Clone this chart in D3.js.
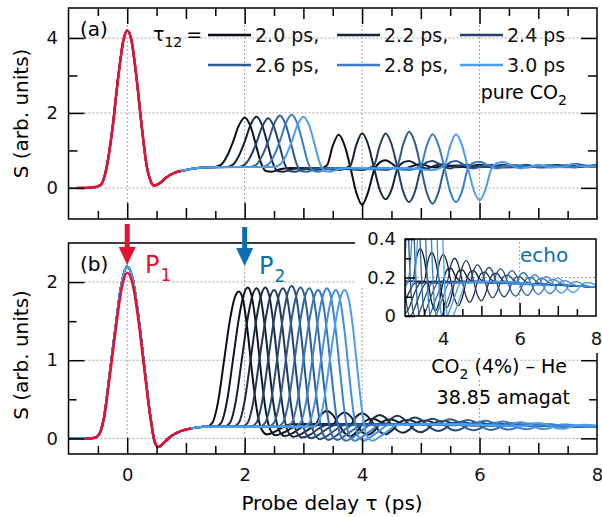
<!DOCTYPE html>
<html>
<head>
<meta charset="utf-8">
<script src="https://cdn.jsdelivr.net/npm/d3@7"></script>
<style>
  body { margin: 0; background: #fff; }
  text { font-family: "DejaVu Sans", sans-serif; }
</style>
</head>
<body>
<svg id="chart" width="602" height="517"></svg>
<script>
// ---- panel (a): pure CO2, tau12 = 2.0 ... 3.0 ps ----
const tauA = ["2.0 ps,", "2.2 ps,", "2.4 ps", "2.6 ps,", "2.8 ps,", "3.0 ps"];
const colorsA = ["#0a0e17", "#15233a", "#22416a", "#2d5c94", "#3a7cc8", "#4b9ded"];

// response to the first pulse, shared by all curves (t in ps, S)
const p1A = [[-1,0],[-0.7,0],[-0.55,0.02],[-0.45,0.08],[-0.35,0.55],[-0.25,1.6],[-0.15,3.0],[-0.07,3.9],[0,4.2],[0.07,3.95],[0.15,3.05],[0.25,1.6],[0.33,0.6],[0.4,0.18],[0.46,0.06],[0.55,0.12],[0.65,0.26],[0.8,0.4],[1.0,0.48],[1.2,0.53],[1.4,0.55]];
const redA = [[-0.85,0],[-0.7,0],[-0.55,0.02],[-0.45,0.08],[-0.35,0.55],[-0.25,1.6],[-0.15,3.0],[-0.07,3.9],[0,4.2],[0.07,3.95],[0.15,3.05],[0.25,1.6],[0.33,0.6],[0.4,0.18],[0.46,0.06],[0.55,0.12],[0.65,0.26],[0.8,0.4],[0.9,0.45]];

const a20 = [[1.5,0.56],[1.6,0.62],[1.7,0.85],[1.8,1.22],[1.9,1.66],[2.0,1.88],[2.1,1.64],[2.2,1.1],[2.28,0.66],[2.36,0.45],[2.46,0.43],[2.6,0.5],[2.8,0.53],[3.0,0.52],[3.2,0.48],[3.4,0.6],[3.5,1.12],[3.6,1.42],[3.7,1.14],[3.8,0.55],[3.9,-0.12],[4.0,-0.45],[4.1,-0.12],[4.2,0.45],[4.3,0.68],[4.4,0.74],[4.55,0.6],[4.7,0.5],[4.85,0.58],[5.0,0.64],[5.2,0.55],[5.4,0.57],[5.6,0.6],[5.8,0.54],[6.0,0.56],[6.2,0.6],[6.4,0.55],[6.6,0.56],[6.8,0.6],[7.0,0.55],[7.2,0.56],[7.5,0.6],[7.8,0.56],[8.0,0.58]];
const a22 = [[1.7,0.56],[1.8,0.62],[1.9,0.85],[2.0,1.23],[2.1,1.68],[2.2,1.9],[2.3,1.66],[2.4,1.11],[2.48,0.66],[2.56,0.45],[2.66,0.43],[2.8,0.5],[3.0,0.53],[3.3,0.52],[3.6,0.48],[3.8,0.6],[3.9,1.14],[4.0,1.46],[4.1,1.17],[4.2,0.55],[4.3,-0.05],[4.4,-0.3],[4.5,-0.05],[4.6,0.5],[4.7,0.68],[4.8,0.72],[4.95,0.6],[5.1,0.52],[5.25,0.6],[5.4,0.63],[5.6,0.55],[5.8,0.57],[6.0,0.62],[6.2,0.55],[6.4,0.56],[6.6,0.61],[6.8,0.55],[7.0,0.57],[7.3,0.61],[7.6,0.55],[7.8,0.58],[8.0,0.6]];
const a24 = [[1.9,0.56],[2.0,0.62],[2.1,0.84],[2.2,1.2],[2.3,1.64],[2.4,1.86],[2.5,1.62],[2.6,1.09],[2.68,0.65],[2.76,0.45],[2.86,0.43],[3.0,0.5],[3.2,0.53],[3.6,0.52],[4.0,0.48],[4.2,0.6],[4.3,1.13],[4.4,1.45],[4.5,1.17],[4.6,0.55],[4.7,-0.1],[4.8,-0.38],[4.9,-0.1],[5.0,0.5],[5.1,0.68],[5.2,0.72],[5.35,0.6],[5.5,0.52],[5.65,0.6],[5.8,0.62],[6.0,0.55],[6.2,0.57],[6.4,0.62],[6.6,0.55],[6.8,0.56],[7.0,0.6],[7.2,0.55],[7.4,0.57],[7.65,0.64],[7.9,0.56],[8.0,0.57]];
const a26 = [[2.1,0.56],[2.2,0.62],[2.3,0.86],[2.4,1.24],[2.5,1.7],[2.6,1.93],[2.7,1.68],[2.8,1.12],[2.88,0.66],[2.96,0.45],[3.06,0.43],[3.2,0.5],[3.4,0.53],[3.8,0.52],[4.4,0.48],[4.6,0.6],[4.7,1.16],[4.8,1.5],[4.9,1.2],[5.0,0.55],[5.1,-0.12],[5.2,-0.42],[5.3,-0.12],[5.4,0.5],[5.5,0.68],[5.6,0.72],[5.75,0.6],[5.9,0.52],[6.05,0.58],[6.2,0.62],[6.4,0.55],[6.6,0.57],[6.8,0.62],[7.0,0.55],[7.2,0.56],[7.4,0.6],[7.6,0.55],[7.8,0.58],[8.0,0.62]];
const a28 = [[2.3,0.56],[2.4,0.62],[2.5,0.86],[2.6,1.25],[2.7,1.72],[2.8,1.95],[2.9,1.7],[3.0,1.13],[3.08,0.67],[3.16,0.46],[3.26,0.43],[3.4,0.5],[3.6,0.53],[4.0,0.52],[4.4,0.53],[4.8,0.48],[5.0,0.6],[5.1,1.12],[5.2,1.43],[5.3,1.14],[5.4,0.55],[5.5,-0.1],[5.6,-0.38],[5.7,-0.1],[5.8,0.5],[5.9,0.67],[6.0,0.7],[6.15,0.6],[6.3,0.52],[6.45,0.58],[6.6,0.61],[6.8,0.55],[7.0,0.57],[7.2,0.61],[7.4,0.55],[7.6,0.56],[7.8,0.6],[8.0,0.57]];
const a30 = [[2.5,0.56],[2.6,0.62],[2.7,0.85],[2.8,1.23],[2.9,1.68],[3.0,1.9],[3.1,1.66],[3.2,1.11],[3.28,0.66],[3.36,0.45],[3.46,0.43],[3.6,0.5],[3.8,0.53],[4.2,0.52],[4.7,0.53],[5.2,0.48],[5.4,0.6],[5.5,1.12],[5.6,1.43],[5.7,1.14],[5.8,0.55],[5.9,-0.05],[6.0,-0.33],[6.1,-0.05],[6.2,0.5],[6.3,0.66],[6.4,0.69],[6.55,0.6],[6.7,0.52],[6.85,0.56],[7.0,0.62],[7.2,0.55],[7.4,0.56],[7.6,0.63],[7.8,0.56],[8.0,0.58]];
const curvesA = [a20, a22, a24, a26, a28, a30];

// ---- panel (b): CO2 (4%) - He, 38.85 amagat ----
const p1B = [[-1,0],[-0.6,0],[-0.5,0.03],[-0.4,0.25],[-0.3,0.82],[-0.2,1.42],[-0.1,1.97],[0,2.2],[0.1,2.02],[0.2,1.5],[0.3,0.86],[0.4,0.25],[0.47,-0.05],[0.53,-0.11],[0.62,-0.06],[0.75,0.03],[0.9,0.09],[1.1,0.13],[1.3,0.15]];
const redB = [[-0.7,0],[-0.6,0],[-0.5,0.03],[-0.4,0.24],[-0.3,0.78],[-0.2,1.37],[-0.1,1.9],[0,2.12],[0.1,1.95],[0.2,1.46],[0.3,0.83],[0.4,0.24],[0.47,-0.05],[0.53,-0.11],[0.62,-0.06],[0.75,0.03],[0.9,0.09],[1.07,0.125]];

const b190 = [[1.35,0.15],[1.45,0.2],[1.55,0.48],[1.65,1.0],[1.75,1.52],[1.83,1.8],[1.9,1.88],[1.97,1.78],[2.05,1.37],[2.12,0.88],[2.2,0.4],[2.28,0.13],[2.38,0.05],[2.5,0.08],[2.65,0.14],[2.8,0.18],[3.0,0.18],[3.2,0.18],[3.3,0.3],[3.4,0.35],[3.5,0.3],[3.6,0.18],[3.7,0.07],[3.8,0.027],[3.9,0.078],[4.0,0.18],[4.1,0.24],[4.2,0.248],[4.35,0.197],[4.5,0.18],[5.0,0.18],[5.5,0.175],[6.5,0.165],[7.3,0.158],[8,0.15]];
const b205 = [[1.5,0.15],[1.6,0.2],[1.7,0.48],[1.8,1.0],[1.9,1.53],[1.98,1.83],[2.05,1.93],[2.12,1.82],[2.2,1.4],[2.27,0.9],[2.35,0.4],[2.43,0.12],[2.53,0.04],[2.65,0.07],[2.8,0.13],[2.95,0.18],[3.2,0.18],[3.5,0.18],[3.6,0.285],[3.7,0.33],[3.8,0.285],[3.9,0.18],[4.0,0.083],[4.1,0.045],[4.2,0.09],[4.3,0.18],[4.4,0.233],[4.5,0.24],[4.65,0.195],[4.8,0.18],[5.5,0.175],[6.5,0.165],[7.3,0.158],[8,0.15]];
const b220 = [[1.65,0.15],[1.75,0.2],[1.85,0.48],[1.95,1.0],[2.05,1.53],[2.13,1.82],[2.2,1.92],[2.27,1.81],[2.35,1.39],[2.42,0.89],[2.5,0.39],[2.58,0.11],[2.68,0.03],[2.8,0.06],[2.95,0.13],[3.1,0.18],[3.5,0.18],[3.8,0.18],[3.9,0.278],[4.0,0.32],[4.1,0.278],[4.2,0.18],[4.3,0.089],[4.4,0.054],[4.5,0.096],[4.6,0.18],[4.7,0.229],[4.8,0.236],[4.95,0.194],[5.1,0.178],[5.5,0.175],[6.5,0.165],[7.3,0.158],[8,0.15]];
const b235 = [[1.8,0.15],[1.9,0.2],[2.0,0.48],[2.1,1.0],[2.2,1.53],[2.28,1.83],[2.35,1.93],[2.42,1.82],[2.5,1.4],[2.57,0.9],[2.65,0.38],[2.73,0.1],[2.83,0.02],[2.95,0.05],[3.1,0.12],[3.25,0.17],[3.8,0.18],[4.1,0.18],[4.2,0.264],[4.3,0.3],[4.4,0.264],[4.5,0.18],[4.6,0.1],[4.7,0.072],[4.8,0.108],[4.9,0.18],[5.0,0.222],[5.1,0.228],[5.25,0.19],[5.4,0.177],[6.5,0.165],[7.3,0.158],[8,0.15]];
const b250 = [[1.95,0.15],[2.05,0.2],[2.15,0.48],[2.25,1.0],[2.35,1.5],[2.43,1.8],[2.5,1.9],[2.57,1.79],[2.65,1.38],[2.72,0.88],[2.8,0.37],[2.88,0.09],[2.98,0.01],[3.1,0.04],[3.25,0.12],[3.4,0.17],[4.0,0.18],[4.4,0.178],[4.5,0.255],[4.6,0.288],[4.7,0.255],[4.8,0.178],[4.9,0.106],[5.0,0.079],[5.1,0.112],[5.2,0.178],[5.3,0.216],[5.4,0.222],[5.55,0.186],[5.7,0.173],[6.5,0.165],[7.3,0.158],[8,0.15]];
const b265 = [[2.1,0.15],[2.2,0.2],[2.3,0.48],[2.4,1.0],[2.5,1.52],[2.58,1.82],[2.65,1.92],[2.72,1.81],[2.8,1.39],[2.87,0.89],[2.95,0.37],[3.03,0.08],[3.13,0.0],[3.25,0.04],[3.4,0.12],[3.55,0.17],[4.2,0.18],[4.7,0.176],[4.8,0.239],[4.9,0.266],[5.0,0.239],[5.1,0.176],[5.2,0.117],[5.3,0.095],[5.4,0.122],[5.5,0.176],[5.6,0.207],[5.7,0.212],[5.85,0.185],[6.0,0.172],[6.5,0.165],[7.3,0.158],[8,0.15]];
const b280 = [[2.25,0.15],[2.35,0.2],[2.45,0.48],[2.55,1.0],[2.65,1.54],[2.73,1.85],[2.8,1.95],[2.87,1.84],[2.95,1.41],[3.02,0.9],[3.1,0.37],[3.18,0.07],[3.28,-0.01],[3.4,0.03],[3.55,0.11],[3.7,0.17],[4.4,0.18],[5.0,0.172],[5.1,0.228],[5.2,0.252],[5.3,0.228],[5.4,0.172],[5.5,0.12],[5.6,0.1],[5.7,0.124],[5.8,0.172],[5.9,0.2],[6.0,0.204],[6.15,0.18],[6.3,0.168],[7.3,0.158],[8,0.15]];
const b295 = [[2.4,0.15],[2.5,0.2],[2.6,0.48],[2.7,1.0],[2.8,1.53],[2.88,1.83],[2.95,1.93],[3.02,1.82],[3.1,1.4],[3.17,0.89],[3.25,0.36],[3.33,0.06],[3.43,-0.02],[3.55,0.03],[3.7,0.11],[3.85,0.17],[4.6,0.18],[5.3,0.17],[5.4,0.223],[5.5,0.245],[5.6,0.223],[5.7,0.17],[5.8,0.121],[5.9,0.103],[6.0,0.125],[6.1,0.17],[6.2,0.196],[6.3,0.2],[6.45,0.178],[6.6,0.165],[7.3,0.158],[8,0.15]];
const b310 = [[2.55,0.15],[2.65,0.2],[2.75,0.48],[2.85,1.0],[2.95,1.52],[3.03,1.82],[3.1,1.92],[3.17,1.81],[3.25,1.39],[3.32,0.89],[3.4,0.36],[3.48,0.05],[3.58,-0.02],[3.7,0.03],[3.85,0.11],[4.0,0.17],[4.8,0.18],[5.6,0.168],[5.7,0.216],[5.8,0.236],[5.9,0.216],[6.0,0.168],[6.1,0.124],[6.2,0.107],[6.3,0.127],[6.4,0.168],[6.5,0.192],[6.6,0.195],[6.75,0.175],[6.9,0.163],[7.5,0.156],[8,0.15]];
const b325 = [[2.7,0.15],[2.8,0.2],[2.9,0.48],[3.0,1.0],[3.1,1.5],[3.18,1.8],[3.25,1.9],[3.32,1.79],[3.4,1.38],[3.47,0.88],[3.55,0.35],[3.63,0.04],[3.73,-0.03],[3.85,0.02],[4.0,0.1],[4.15,0.17],[5.0,0.18],[5.9,0.166],[6.0,0.208],[6.1,0.226],[6.2,0.208],[6.3,0.166],[6.4,0.127],[6.5,0.112],[6.6,0.13],[6.7,0.166],[6.8,0.187],[6.9,0.19],[7.05,0.172],[7.2,0.16],[8,0.15]];
const b340 = [[2.85,0.15],[2.95,0.2],[3.05,0.48],[3.15,1.0],[3.25,1.52],[3.33,1.82],[3.4,1.92],[3.47,1.81],[3.55,1.39],[3.62,0.89],[3.7,0.35],[3.78,0.04],[3.88,-0.03],[4.0,0.02],[4.15,0.1],[4.3,0.17],[5.2,0.18],[6.2,0.163],[6.3,0.199],[6.4,0.215],[6.5,0.199],[6.6,0.163],[6.7,0.129],[6.8,0.116],[6.9,0.132],[7.0,0.163],[7.1,0.181],[7.2,0.184],[7.35,0.168],[7.5,0.158],[8,0.15]];
const b355 = [[3.0,0.15],[3.1,0.2],[3.2,0.48],[3.3,1.0],[3.4,1.5],[3.48,1.8],[3.55,1.9],[3.62,1.79],[3.7,1.38],[3.77,0.88],[3.85,0.35],[3.93,0.03],[4.03,-0.03],[4.15,0.02],[4.3,0.1],[4.45,0.17],[5.4,0.18],[6.5,0.16],[6.6,0.192],[6.7,0.206],[6.8,0.192],[6.9,0.16],[7.0,0.13],[7.1,0.119],[7.2,0.132],[7.3,0.16],[7.4,0.176],[7.5,0.178],[7.65,0.165],[7.8,0.155],[8,0.15]];
const b370 = [[3.15,0.15],[3.25,0.2],[3.35,0.48],[3.45,1.0],[3.55,1.5],[3.63,1.8],[3.7,1.9],[3.77,1.79],[3.85,1.38],[3.92,0.88],[4.0,0.35],[4.08,0.03],[4.18,-0.03],[4.3,0.02],[4.45,0.1],[4.6,0.17],[5.6,0.18],[6.8,0.158],[6.9,0.186],[7.0,0.198],[7.1,0.186],[7.2,0.158],[7.3,0.132],[7.4,0.122],[7.5,0.134],[7.6,0.158],[7.7,0.172],[7.8,0.174],[8.0,0.16]];
const curvesB = [b190, b205, b220, b235, b250, b265, b280, b295, b310, b325, b340, b355, b370];

// tick values / labels
const yMajorA = [0, 2, 4], yMinorA = [1, 3];
const yMajorB = [0, 1, 2], yMinorB = [0.5, 1.5];
const xEven = [0, 2, 4, 6], xOdd = [1, 3, 5, 7], xHalf = [-0.5, 0.5, 1.5, 2.5, 3.5, 4.5, 5.5, 6.5, 7.5];
const xLabels = [0, 2, 4, 6, 8];
const insetXLabels = [4, 6, 8], insetXEven = [4, 6], insetXOdd = [5, 7], insetXHalf = [3.5, 4.5, 5.5, 6.5, 7.5];
const insetYLabels = ["0", "0.2", "0.4"], insetYVals = [0, 0.2, 0.4], insetYMinor = [0.1, 0.3];

const svg = d3.select("#chart");
const left = 68.5, right = 597;
const xA = d3.scaleLinear().domain([-1, 8]).range([left, right]);
const yA = d3.scaleLinear().domain([-0.83, 4.8]).range([219, 8]);
const xB = xA.copy();
const yB = d3.scaleLinear().domain([-0.2, 2.5]).range([454, 243]);
const xI = d3.scaleLinear().domain([3, 8]).range([405, 596]);
const yI = d3.scaleLinear().domain([0, 0.4]).range([316, 239]);

const red = "#e3122f", blue = "#0a6fb0";
const colorB = d3.scaleLinear().domain(d3.range(colorsA.length).map(i => i / (colorsA.length - 1))).range(colorsA);

function grid(g, x, y, xs, ys) {
  g.selectAll(null).data(xs).join("line")
    .attr("x1", d => x(d)).attr("x2", d => x(d))
    .attr("y1", y.range()[0]).attr("y2", y.range()[1]);
  g.selectAll(null).data(ys).join("line")
    .attr("y1", d => y(d)).attr("y2", d => y(d))
    .attr("x1", x.range()[0]).attr("x2", x.range()[1]);
  g.selectAll("line").attr("stroke", "#9a9a9a").attr("stroke-width", 0.9).attr("stroke-dasharray", "2,2");
}

function ticks(g, gen, scale, vals, len, tr, fmt, pad) {
  const a = g.append("g").attr("transform", tr)
    .call(gen(scale).tickValues(vals).tickSizeInner(-len).tickSizeOuter(0)
      .tickPadding(pad || 0).tickFormat(fmt || (() => "")));
  a.select(".domain").remove();
  a.selectAll("line").attr("stroke", "#000").attr("stroke-width", 1.5);
  a.attr("font-family", null).attr("font-size", 18);
  a.selectAll("text").attr("fill", "#111");
}

function xTicks(g, x, yPos, gen) {
  ticks(g, gen, x, xEven, 16, `translate(0,${yPos})`);
  ticks(g, gen, x, xOdd, 11, `translate(0,${yPos})`);
  ticks(g, gen, x, xHalf, 8, `translate(0,${yPos})`);
}

function lineGen(x, y) {
  return d3.line().x(d => x(d[0])).y(d => y(d[1])).curve(d3.curveMonotoneX);
}

function clip(id, x0, y0, w, h) {
  svg.append("clipPath").attr("id", id).append("rect")
    .attr("x", x0).attr("y", y0).attr("width", w).attr("height", h);
}

// ================= panel (a) =================
const gA = svg.append("g");
clip("clipA", left, 8, right - left, 211);
grid(gA.append("g"), xA, yA, xEven, yMajorA);

const lineA = lineGen(xA, yA);
const curveGA = gA.append("g").attr("clip-path", "url(#clipA)");
curveGA.selectAll("path").data(curvesA).join("path")
  .attr("d", d => lineA(p1A.concat(d)))
  .attr("fill", "none").attr("stroke", (d, i) => colorsA[i])
  .attr("stroke-width", 2).attr("stroke-linejoin", "round");
curveGA.append("path").attr("d", lineA(redA))
  .attr("fill", "none").attr("stroke", red).attr("stroke-width", 2.6).attr("stroke-linecap", "round");

ticks(gA, d3.axisLeft, yA, yMajorA, 16, `translate(${left},0)`, d3.format("d"), 10.5);
ticks(gA, d3.axisLeft, yA, yMinorA, 9, `translate(${left},0)`);
ticks(gA, d3.axisRight, yA, yMajorA, 16, `translate(${right},0)`);
ticks(gA, d3.axisRight, yA, yMinorA, 9, `translate(${right},0)`);
xTicks(gA, xA, 219, d3.axisBottom);
xTicks(gA, xA, 8, d3.axisTop);
gA.append("rect").attr("x", left).attr("y", 8).attr("width", right - left).attr("height", 211)
  .attr("fill", "none").attr("stroke", "#000").attr("stroke-width", 1.5);

gA.append("text").attr("x", 80).attr("y", 29).attr("dy", "0.35em").attr("font-size", 20).text("(a)");
const tauT = gA.append("text").attr("x", 153).attr("y", 34).attr("dy", "0.35em").attr("font-size", 19);
tauT.append("tspan").text("τ");
tauT.append("tspan").attr("font-size", 14).attr("dy", 6).text("12");
tauT.append("tspan").attr("dy", -6).attr("dx", 4).text("=");

const legCols = [208, 337, 460], legRows = [35, 65];
const leg = gA.append("g").selectAll("g").data(tauA).join("g")
  .attr("transform", (d, i) => `translate(${legCols[i % 3]},${legRows[Math.floor(i / 3)]})`);
leg.append("line").attr("x1", 0).attr("x2", 43).attr("stroke", (d, i) => colorsA[i]).attr("stroke-width", 2.6);
leg.append("text").attr("x", 47).attr("dy", "0.35em").attr("font-size", 19).attr("fill", "#111").text(d => d);

const pure = gA.append("text").attr("x", 567).attr("y", 92).attr("dy", "0.35em")
  .attr("text-anchor", "end").attr("font-size", 19);
pure.append("tspan").text("pure CO");
pure.append("tspan").attr("font-size", 14).attr("dy", 6).text("2");

gA.append("text").attr("transform", "translate(21,113.5) rotate(-90)")
  .attr("text-anchor", "middle").attr("dy", "0.35em").attr("font-size", 20).text("S (arb. units)");

// ================= panel (b) =================
const gB = svg.append("g");
clip("clipB", left, 243, right - left, 211);
grid(gB.append("g"), xB, yB, xEven, yMajorB);

const lineB = lineGen(xB, yB);
const curveGB = gB.append("g").attr("clip-path", "url(#clipB)");
curveGB.selectAll("path").data(curvesB).join("path")
  .attr("d", d => lineB(p1B.concat(d)))
  .attr("fill", "none").attr("stroke", (d, i) => colorB(i / (curvesB.length - 1)))
  .attr("stroke-width", 2).attr("stroke-linejoin", "round");
curveGB.append("path").attr("d", lineB(redB))
  .attr("fill", "none").attr("stroke", red).attr("stroke-width", 2.6).attr("stroke-linecap", "round");

ticks(gB, d3.axisLeft, yB, yMajorB, 16, `translate(${left},0)`, d3.format("d"), 10.5);
ticks(gB, d3.axisLeft, yB, yMinorB, 8, `translate(${left},0)`);
ticks(gB, d3.axisRight, yB, yMajorB, 16, `translate(${right},0)`);
ticks(gB, d3.axisRight, yB, yMinorB, 8, `translate(${right},0)`);
xTicks(gB, xB, 454, d3.axisBottom);
ticks(gB, d3.axisBottom, xB, xLabels, 0, `translate(0,454)`, d3.format("d"), 14);
gB.append("rect").attr("x", left).attr("y", 243).attr("width", right - left).attr("height", 211)
  .attr("fill", "none").attr("stroke", "#000").attr("stroke-width", 1.5);

gB.append("text").attr("x", 80).attr("y", 264).attr("dy", "0.35em").attr("font-size", 20).text("(b)");
gB.append("text").attr("transform", "translate(21,355) rotate(-90)")
  .attr("text-anchor", "middle").attr("dy", "0.35em").attr("font-size", 20).text("S (arb. units)");
svg.append("text").attr("x", 332).attr("y", 503).attr("dy", "0.35em")
  .attr("text-anchor", "middle").attr("font-size", 20).text("Probe delay τ (ps)");

// pulse arrows
function arrow(xp, y0, y1, col) {
  gB.append("line").attr("x1", xp).attr("x2", xp).attr("y1", y0).attr("y2", y1 - 10)
    .attr("stroke", col).attr("stroke-width", 5);
  gB.append("path").attr("d", `M${xp - 8.5},${y1 - 18}L${xp + 8.5},${y1 - 18}L${xp},${y1}Z`).attr("fill", col);
}
arrow(xB(0), 224, 265, red);
arrow(xB(2), 227, 266, blue);
const p1t = gB.append("text").attr("x", 145).attr("y", 265).attr("dy", "0.35em").attr("font-size", 24).attr("fill", red);
p1t.append("tspan").text("P");
p1t.append("tspan").attr("font-size", 17).attr("dy", 8).attr("dx", 1).text("1");
const p2t = gB.append("text").attr("x", 259).attr("y", 266).attr("dy", "0.35em").attr("font-size", 24).attr("fill", blue);
p2t.append("tspan").text("P");
p2t.append("tspan").attr("font-size", 17).attr("dy", 8).attr("dx", 1).text("2");

const halo = t => t.attr("stroke", "#fff").attr("stroke-width", 4).attr("paint-order", "stroke");
const co2 = gB.append("text").attr("x", 567).attr("y", 366).attr("dy", "0.35em")
  .attr("text-anchor", "end").attr("font-size", 19).call(halo);
co2.append("tspan").text("CO");
co2.append("tspan").attr("font-size", 14).attr("dy", 6).text("2");
co2.append("tspan").attr("dy", -6).text(" (4%) – He");
gB.append("text").attr("x", 570).attr("y", 397).attr("dy", "0.35em")
  .attr("text-anchor", "end").attr("font-size", 19).call(halo).text("38.85 amagat");

// ================= inset =================
const gI = svg.append("g");
gI.append("path").attr("d", "M355,227H602V353H400V288H355Z").attr("fill", "#fff");
clip("clipI", 405, 239, 191, 77);
grid(gI.append("g"), xI, yI, [6], [0.2]);
const lineI = lineGen(xI, yI);
gI.append("g").attr("clip-path", "url(#clipI)")
  .selectAll("path").data(curvesB).join("path")
  .attr("d", d => lineI(d))
  .attr("fill", "none").attr("stroke", (d, i) => colorB(i / (curvesB.length - 1)))
  .attr("stroke-width", 1.3);
ticks(gI, d3.axisBottom, xI, insetXEven, 13, "translate(0,316)");
ticks(gI, d3.axisBottom, xI, insetXOdd, 10, "translate(0,316)");
ticks(gI, d3.axisBottom, xI, insetXHalf, 7, "translate(0,316)");
ticks(gI, d3.axisBottom, xI, insetXLabels, 0, "translate(0,316)", d3.format("d"), 16);
ticks(gI, d3.axisLeft, yI, insetYVals, 10, "translate(405,0)", (d, i) => insetYLabels[i], 9);
ticks(gI, d3.axisLeft, yI, insetYMinor, 6, "translate(405,0)");
gI.append("rect").attr("x", 405).attr("y", 239).attr("width", 191).attr("height", 77)
  .attr("fill", "none").attr("stroke", "#000").attr("stroke-width", 1.5);
gI.append("text").attr("x", 520).attr("y", 255).attr("dy", "0.35em").attr("font-size", 20)
  .attr("fill", blue).text("echo");
</script>
</body>
</html>
